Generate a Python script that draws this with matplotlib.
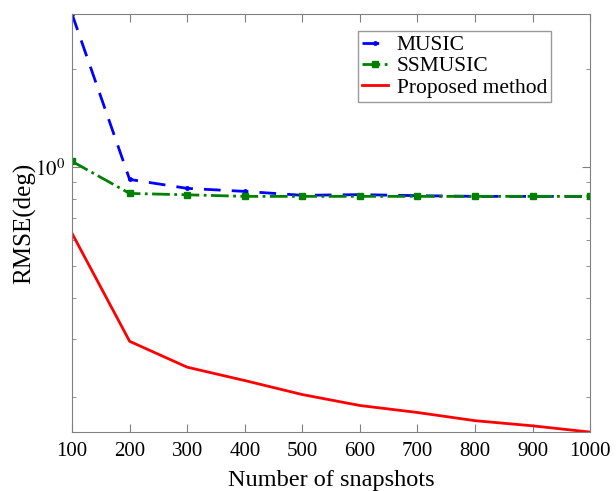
import numpy as np
import matplotlib.pyplot as plt
from matplotlib.ticker import LogLocator, NullFormatter

plt.rcParams['font.family'] = ['Liberation Serif', 'DejaVu Serif']
plt.rcParams['mathtext.fontset'] = 'stix'

snapshots = [100, 200, 300, 400, 500, 600, 700, 800, 900, 1000]
music = [2.93, 0.919, 0.863, 0.845, 0.822, 0.826, 0.820, 0.816, 0.816, 0.816]
ssmusic = [1.043, 0.833, 0.825, 0.816, 0.816, 0.816, 0.816, 0.816, 0.816, 0.816]
proposed = [0.629, 0.295, 0.246, 0.224, 0.203, 0.188, 0.179, 0.169, 0.163, 0.156]

fig = plt.figure(figsize=(6.16, 4.91), dpi=100)
ax = fig.add_axes([0.117, 0.12, 0.841, 0.851])

ax.plot(snapshots, music, '--', color='blue', marker='.', markersize=5,
        linewidth=2, dashes=(6, 4), label='MUSIC')
ax.plot(snapshots, ssmusic, '-.', color='green', marker='s', markersize=4,
        linewidth=2, label='SSMUSIC')
ax.plot(snapshots, proposed, '-', color='red', linewidth=2, label='Proposed method')

ax.set_yscale('log')
ax.set_xlim(100, 1000)
ax.set_ylim(0.156, 2.93)
ax.set_xticks(snapshots)
ax.set_yticks([1])
ax.yaxis.set_minor_locator(LogLocator(base=10, subs=np.arange(2, 10), numticks=20))
ax.yaxis.set_minor_formatter(NullFormatter())
ax.set_yticklabels([r'$10^0$'])
ax.tick_params(which='both', direction='in', top=True, right=True, color='gray', labelsize=15)
ax.tick_params(axis='x', pad=7)
ax.tick_params(axis='y', labelsize=15, pad=5)
ax.tick_params(which='major', length=6)
ax.tick_params(which='minor', length=3)
for s in ax.spines.values():
    s.set_color('gray')

ax.set_xlabel('Number of snapshots', fontsize=17.5, labelpad=6.5)
ax.set_ylabel('RMSE(deg)', fontsize=18, labelpad=-1)

leg = ax.legend(loc='upper right', bbox_to_anchor=(0.925, 0.96), fontsize=15.5,
                fancybox=False, edgecolor='gray', handlelength=1.2,
                borderpad=0.2, labelspacing=0.05, handletextpad=0.4, borderaxespad=0)
leg.get_frame().set_linewidth(1)

fig.savefig('out.png', dpi=100)
